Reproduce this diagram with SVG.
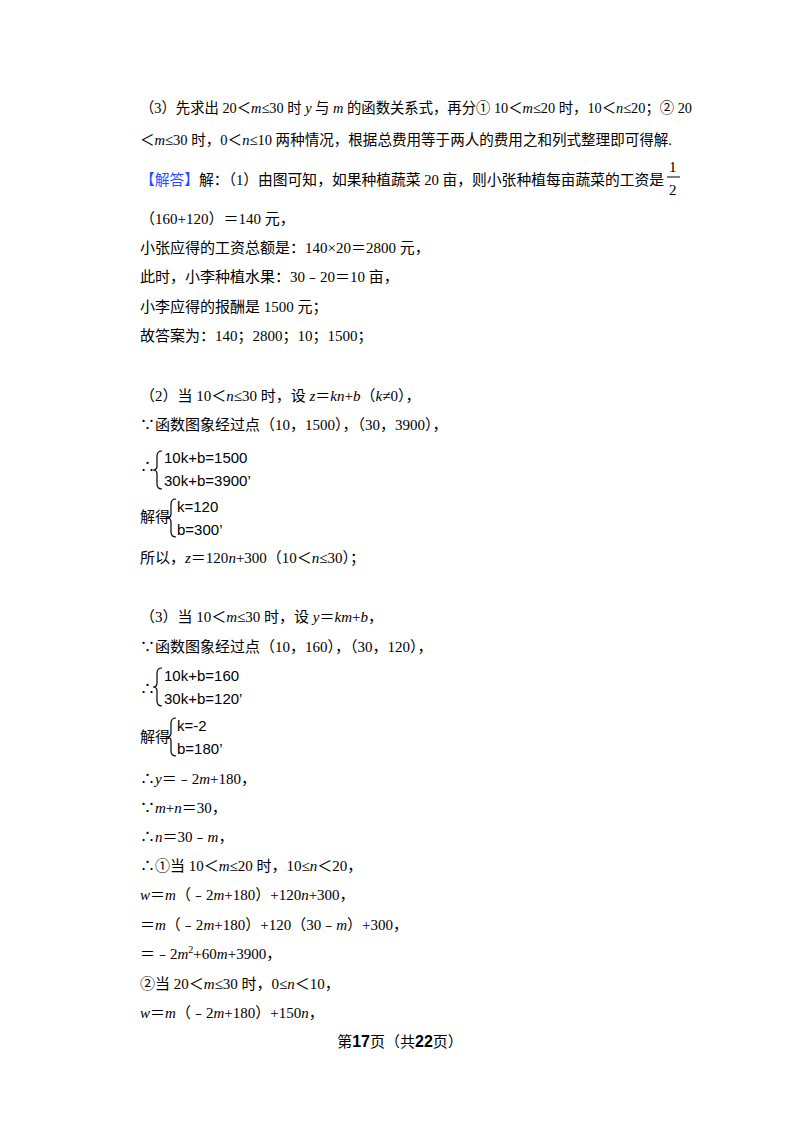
<svg xmlns="http://www.w3.org/2000/svg" width="800" height="1132" viewBox="0 0 800 1132">
<style>
text{font-family:"Liberation Serif","Noto Sans CJK SC",serif;font-size:15px;fill:#000}
.m{font-family:"Liberation Sans","Noto Sans CJK SC",sans-serif;font-size:15px}
.br{fill:none;stroke:#000;stroke-width:1.2}
</style>
<rect width="800" height="1132" fill="#fff"/>
<text x="140" y="113" textLength="552" lengthAdjust="spacingAndGlyphs">（3）先求出 20＜<tspan font-style="italic">m</tspan>≤30 时 <tspan font-style="italic">y</tspan> 与 <tspan font-style="italic">m</tspan> 的函数关系式，再分① 10＜<tspan font-style="italic">m</tspan>≤20 时，10＜<tspan font-style="italic">n</tspan>≤20；② 20</text>
<text x="140" y="145" textLength="532" lengthAdjust="spacingAndGlyphs">＜<tspan font-style="italic">m</tspan>≤30 时，0＜<tspan font-style="italic">n</tspan>≤10 两种情况，根据总费用等于两人的费用之和列式整理即可得解.</text>
<text x="140" y="185" textLength="524" lengthAdjust="spacingAndGlyphs"><tspan fill="#1f4fff">【解答】</tspan>解：（1）由图可知，如果种植蔬菜 20 亩，则小张种植每亩蔬菜的工资是</text>
<text x="669" y="172" font-size="16">1</text><line x1="667" y1="177" x2="680" y2="177" stroke="#000"/><text x="669" y="195" font-size="16">2</text>
<text x="140" y="224">（160+120）＝140 元，</text>
<text x="140" y="253">小张应得的工资总额是：140×20＝2800 元，</text>
<text x="140" y="282">此时，小李种植水果：30﹣20＝10 亩，</text>
<text x="140" y="312">小李应得的报酬是 1500 元；</text>
<text x="140" y="341">故答案为：140；2800；10；1500；</text>
<text x="140" y="401">（2）当 10＜<tspan font-style="italic">n</tspan>≤30 时，设 <tspan font-style="italic">z</tspan>＝<tspan font-style="italic">kn</tspan>+<tspan font-style="italic">b</tspan>（<tspan font-style="italic">k</tspan>≠0），</text>
<text x="140" y="430">∵函数图象经过点（10，1500），（30，3900），</text>
<text x="140" y="472">∴</text>
<path class="br" d="M162,451 q-5,0 -5,5 v10 q0,4 -4,4 q4,0 4,4 v10 q0,5 5,5"/>
<text class="m" x="164" y="463">10k+b=1500</text>
<text class="m" x="164" y="486">30k+b=3900’</text>
<text x="140" y="522">解得</text>
<path class="br" d="M176,499 q-5,0 -5,5 v10 q0,4 -4,4 q4,0 4,4 v10 q0,5 5,5"/>
<text class="m" x="177" y="512">k=120</text>
<text class="m" x="177" y="535">b=300’</text>
<text x="140" y="563">所以，<tspan font-style="italic">z</tspan>＝120<tspan font-style="italic">n</tspan>+300（10＜<tspan font-style="italic">n</tspan>≤30）；</text>
<text x="140" y="622">（3）当 10＜<tspan font-style="italic">m</tspan>≤30 时，设 <tspan font-style="italic">y</tspan>＝<tspan font-style="italic">km</tspan>+<tspan font-style="italic">b</tspan>，</text>
<text x="140" y="652">∵函数图象经过点（10，160），（30，120），</text>
<text x="140" y="694">∴</text>
<path class="br" d="M162,668 q-5,0 -5,5 v10 q0,4 -4,4 q4,0 4,4 v10 q0,5 5,5"/>
<text class="m" x="164" y="681">10k+b=160</text>
<text class="m" x="164" y="704">30k+b=120’</text>
<text x="140" y="742">解得</text>
<path class="br" d="M176,718 q-5,0 -5,5 v10 q0,4 -4,4 q4,0 4,4 v10 q0,5 5,5"/>
<text class="m" x="177" y="731">k=-2</text>
<text class="m" x="177" y="754">b=180’</text>
<text x="140" y="784">∴<tspan font-style="italic">y</tspan>＝﹣2<tspan font-style="italic">m</tspan>+180，</text>
<text x="140" y="813">∵<tspan font-style="italic">m</tspan>+<tspan font-style="italic">n</tspan>＝30，</text>
<text x="140" y="842">∴<tspan font-style="italic">n</tspan>＝30﹣<tspan font-style="italic">m</tspan>，</text>
<text x="140" y="871">∴①当 10＜<tspan font-style="italic">m</tspan>≤20 时，10≤<tspan font-style="italic">n</tspan>＜20，</text>
<text x="140" y="900"><tspan font-style="italic">w</tspan>＝<tspan font-style="italic">m</tspan>（﹣2<tspan font-style="italic">m</tspan>+180）+120<tspan font-style="italic">n</tspan>+300，</text>
<text x="140" y="930">＝<tspan font-style="italic">m</tspan>（﹣2<tspan font-style="italic">m</tspan>+180）+120（30﹣<tspan font-style="italic">m</tspan>）+300，</text>
<text x="140" y="959">＝﹣2<tspan font-style="italic">m</tspan><tspan font-size="10" dy="-6">2</tspan><tspan dy="6">+60</tspan><tspan font-style="italic">m</tspan>+3900，</text>
<text x="140" y="989">②当 20＜<tspan font-style="italic">m</tspan>≤30 时，0≤<tspan font-style="italic">n</tspan>＜10，</text>
<text x="140" y="1018"><tspan font-style="italic">w</tspan>＝<tspan font-style="italic">m</tspan>（﹣2<tspan font-style="italic">m</tspan>+180）+150<tspan font-style="italic">n</tspan>，</text>
<text x="400" y="1047" text-anchor="middle" font-size="14">第<tspan font-weight="bold" font-family="Liberation Sans" font-size="16">17</tspan>页（共<tspan font-weight="bold" font-family="Liberation Sans" font-size="16">22</tspan>页）</text>
</svg>
